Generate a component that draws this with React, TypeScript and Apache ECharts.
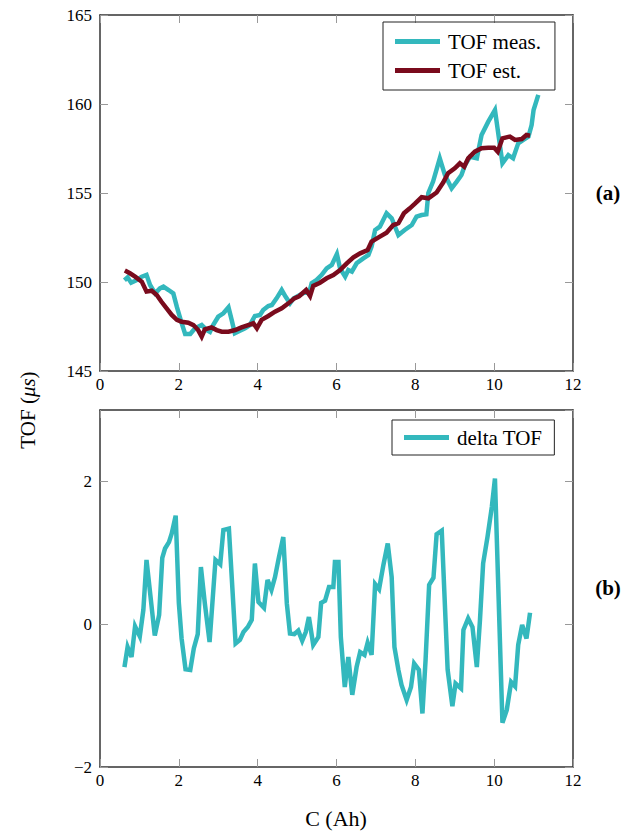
import React, { useEffect, useRef } from "react";
import * as echarts from "echarts";

const xTicksLabel = "C (Ah)";

const measX = [0.62, 0.70, 0.79, 0.92, 1.06, 1.18, 1.27, 1.40, 1.52, 1.61, 1.74, 1.86, 1.95, 2.06, 2.16, 2.29, 2.41, 2.58, 2.71, 2.79, 2.87, 3.0, 3.13, 3.26, 3.34, 3.42, 3.55, 3.68, 3.80, 3.93, 4.06, 4.14, 4.27, 4.36, 4.48, 4.61, 4.71, 4.82, 4.91, 5.07, 5.22, 5.30, 5.37, 5.49, 5.62, 5.75, 5.88, 6.01, 6.09, 6.22, 6.30, 6.39, 6.51, 6.68, 6.81, 6.89, 6.98, 7.10, 7.27, 7.40, 7.57, 7.73, 7.91, 8.03, 8.16, 8.28, 8.33, 8.45, 8.62, 8.75, 8.92, 9.05, 9.17, 9.26, 9.39, 9.56, 9.68, 9.85, 10.02, 10.21, 10.36, 10.48, 10.61, 10.74, 10.87, 10.95, 11.0, 11.12];
const measY = [150.1, 150.26, 149.96, 150.1, 150.3, 150.4, 149.83, 149.36, 149.64, 149.74, 149.55, 149.36, 148.6, 147.77, 147.08, 147.08, 147.4, 147.58, 147.3, 147.2, 147.58, 148.05, 148.24, 148.58, 147.87, 147.12, 147.26, 147.4, 147.58, 148.09, 148.15, 148.43, 148.65, 148.71, 149.08, 149.55, 149.17, 148.8, 149.08, 149.27, 149.45, 149.35, 149.93, 150.11, 150.39, 150.77, 150.96, 151.57, 150.77, 150.3, 150.67, 150.58, 151.05, 151.33, 151.52, 151.99, 152.92, 153.11, 153.86, 153.58, 152.64, 152.92, 153.2, 153.67, 153.76, 153.8, 155.0, 155.64, 156.95, 156.01, 155.26, 155.64, 156.01, 156.57, 157.04, 156.95, 158.26, 159.01, 159.66, 156.67, 157.13, 156.95, 157.79, 157.98, 158.17, 158.82, 159.66, 160.51];

const estX = [0.63, 0.76, 0.89, 1.06, 1.18, 1.31, 1.44, 1.56, 1.69, 1.82, 1.95, 2.07, 2.24, 2.37, 2.49, 2.58, 2.66, 2.83, 2.96, 3.09, 3.26, 3.43, 3.59, 3.76, 3.89, 3.98, 4.10, 4.27, 4.44, 4.61, 4.78, 4.93, 5.05, 5.23, 5.33, 5.41, 5.58, 5.75, 5.92, 6.09, 6.26, 6.43, 6.60, 6.79, 6.89, 7.10, 7.27, 7.44, 7.57, 7.71, 7.86, 7.99, 8.16, 8.33, 8.54, 8.71, 8.83, 9.0, 9.13, 9.24, 9.34, 9.51, 9.68, 9.85, 10.0, 10.09, 10.21, 10.40, 10.53, 10.70, 10.82, 10.91];
const estY = [150.64, 150.49, 150.3, 150.02, 149.46, 149.51, 149.27, 148.89, 148.52, 148.15, 147.87, 147.77, 147.71, 147.58, 147.3, 146.93, 147.34, 147.45, 147.3, 147.21, 147.21, 147.3, 147.45, 147.58, 147.68, 147.4, 147.87, 148.09, 148.33, 148.52, 148.8, 149.08, 149.2, 149.55, 149.21, 149.78, 149.96, 150.21, 150.39, 150.67, 151.05, 151.39, 151.61, 151.8, 152.27, 152.55, 152.77, 153.2, 153.3, 153.86, 154.14, 154.4, 154.76, 154.7, 155.03, 155.6, 156.11, 156.39, 156.67, 156.48, 156.95, 157.32, 157.51, 157.54, 157.54, 157.32, 158.07, 158.17, 157.98, 158.03, 158.26, 158.22];

const deltaX = [0.62, 0.70, 0.80, 0.89, 1.01, 1.10, 1.18, 1.39, 1.50, 1.58, 1.65, 1.75, 1.82, 1.92, 2.0, 2.07, 2.17, 2.29, 2.38, 2.48, 2.56, 2.66, 2.78, 2.93, 3.05, 3.13, 3.27, 3.44, 3.55, 3.64, 3.75, 3.85, 3.93, 4.02, 4.16, 4.25, 4.35, 4.44, 4.54, 4.65, 4.74, 4.82, 4.93, 5.03, 5.13, 5.22, 5.30, 5.41, 5.54, 5.61, 5.71, 5.81, 5.92, 5.96, 6.05, 6.11, 6.21, 6.30, 6.40, 6.51, 6.60, 6.71, 6.79, 6.89, 6.98, 7.08, 7.19, 7.30, 7.40, 7.47, 7.57, 7.65, 7.78, 7.89, 7.97, 8.09, 8.18, 8.26, 8.35, 8.46, 8.54, 8.67, 8.82, 8.94, 9.02, 9.16, 9.22, 9.34, 9.45, 9.56, 9.64, 9.72, 9.83, 9.94, 10.02, 10.21, 10.32, 10.43, 10.53, 10.61, 10.71, 10.82, 10.91];
const deltaY = [-0.6, -0.32, -0.46, -0.03, -0.17, 0.2, 0.9, -0.16, 0.13, 0.93, 1.06, 1.15, 1.27, 1.52, 0.3, -0.2, -0.63, -0.64, -0.34, -0.14, 0.8, 0.29, -0.25, 0.9, 0.84, 1.32, 1.34, -0.27, -0.22, -0.11, -0.04, 0.06, 0.85, 0.31, 0.23, 0.62, 0.48, 0.66, 0.94, 1.22, 0.29, -0.13, -0.14, -0.09, -0.23, -0.11, 0.1, -0.29, -0.18, 0.3, 0.33, 0.52, 0.52, 0.87, 0.87, -0.18, -0.88, -0.46, -0.99, -0.6, -0.39, -0.43, -0.26, -0.43, 0.56, 0.49, 0.83, 1.13, 0.66, -0.32, -0.64, -0.85, -1.06, -0.88, -0.55, -0.64, -1.25, -0.5, 0.55, 0.65, 1.26, 1.31, -0.64, -1.15, -0.83, -0.9, -0.08, 0.08, -0.04, -0.6, 0.06, 0.85, 1.22, 1.64, 2.04, -1.38, -1.2, -0.81, -0.87, -0.29, -0.01, -0.2, 0.16];

const SERIF = "Liberation Serif";
const TEAL = "#33b8bd";
const RED = "#7a0b1d";

const zip = (xs: number[], ys: number[]) => xs.map((x, i) => [x, ys[i]]);

export default function App() {
  const ref = useRef<HTMLDivElement>(null);
  useEffect(() => {
    if (!ref.current) return;
    const chart = echarts.init(ref.current, undefined, { renderer: "svg" });
    const axisLine = { show: true, onZero: false, lineStyle: { color: "#333", width: 1.5 } };
    const tick = { show: true, inside: true, length: 8, lineStyle: { color: "#999", width: 1 } };
    const label = { fontFamily: SERIF, fontSize: 17, color: "#000" };
    const fmt = (v: number) => (v === 3 ? "" : String(v).replace("-", "\u2212"));
    const mkX = (grid: number, pos: "bottom" | "top", show: boolean) => ({
      type: "value", gridIndex: grid, position: pos, min: 0, max: 12, interval: 2,
      axisLine, axisTick: tick, splitLine: { show: false },
      axisLabel: show ? { ...label, margin: 5, formatter: fmt } : { show: false },
    });
    const mkY = (grid: number, pos: "left" | "right", show: boolean, min: number, max: number, interval: number) => ({
      type: "value", gridIndex: grid, position: pos, min, max, interval,
      axisLine, axisTick: tick, splitLine: { show: false },
      axisLabel: show ? { ...label, margin: 8, formatter: fmt, showMaxLabel: max !== 3 } : { show: false },
    });
    const legendText = { fontFamily: SERIF, fontSize: 21, color: "#000", lineHeight: 21, padding: [0, 0, 0, 3] };
    chart.setOption({
      animation: false,
      grid: [
        { left: 100, top: 15, width: 473, height: 356 },
        { left: 100, top: 410, width: 473, height: 357 },
      ],
      xAxis: [mkX(0, "bottom", true), mkX(0, "top", false), mkX(1, "bottom", true), mkX(1, "top", false)],
      yAxis: [
        mkY(0, "left", true, 145, 165, 5), mkY(0, "right", false, 145, 165, 5),
        mkY(1, "left", true, -2, 3, 2), mkY(1, "right", false, -2, 3, 2),
      ],
      legend: [
        {
          data: ["TOF meas.", "TOF est."], orient: "vertical", left: 383, top: 22,
          icon: "rect", itemWidth: 45, itemHeight: 5, itemGap: 8,
          textStyle: legendText,
          borderColor: "#222", borderWidth: 1, padding: [9, 14, 9, 12], borderRadius: 0,
        },
        {
          data: ["delta TOF"], orient: "vertical", left: 392, top: 420,
          icon: "rect", itemWidth: 45, itemHeight: 5,
          textStyle: legendText,
          borderColor: "#222", borderWidth: 1, padding: [7, 12, 7, 12], borderRadius: 0,
        },
      ],
      series: [
        {
          name: "TOF meas.", type: "line", xAxisIndex: 0, yAxisIndex: 0, data: zip(measX, measY),
          showSymbol: false, symbol: "none", color: TEAL, lineStyle: { color: TEAL, width: 4.5, join: "miter" },
        },
        {
          name: "TOF est.", type: "line", xAxisIndex: 0, yAxisIndex: 0, data: zip(estX, estY),
          showSymbol: false, symbol: "none", color: RED, lineStyle: { color: RED, width: 4.5, join: "miter" },
        },
        {
          name: "delta TOF", type: "line", xAxisIndex: 2, yAxisIndex: 2, data: zip(deltaX, deltaY),
          showSymbol: false, symbol: "none", color: TEAL, lineStyle: { color: TEAL, width: 4.5, join: "miter" },
        },
      ],
      graphic: [
        {
          type: "text", x: 608, y: 193,
          style: { text: "(a)", fontFamily: SERIF, fontSize: 21, fontWeight: "bold", fill: "#000", align: "center", verticalAlign: "middle" },
        },
        {
          type: "text", x: 608, y: 588,
          style: { text: "(b)", fontFamily: SERIF, fontSize: 21, fontWeight: "bold", fill: "#000", align: "center", verticalAlign: "middle" },
        },
        {
          type: "text", x: 336, y: 818,
          style: { text: xTicksLabel, fontFamily: SERIF, fontSize: 22, fill: "#000", align: "center", verticalAlign: "middle" },
        },
        {
          type: "text", x: 28, y: 410, rotation: Math.PI / 2,
          style: {
            text: "{a|TOF (}{b|μs}{a|)}",
            align: "center", verticalAlign: "middle", fill: "#000",
            rich: {
              a: { fontFamily: SERIF, fontSize: 21, fill: "#000" },
              b: { fontFamily: SERIF, fontSize: 21, fontStyle: "italic", fill: "#000" },
            },
          },
        },
      ],
    });
    return () => chart.dispose();
  }, []);
  return <div ref={ref} style={{ width: 639, height: 831, position: "absolute", left: 0, top: 0 }} />;
}
